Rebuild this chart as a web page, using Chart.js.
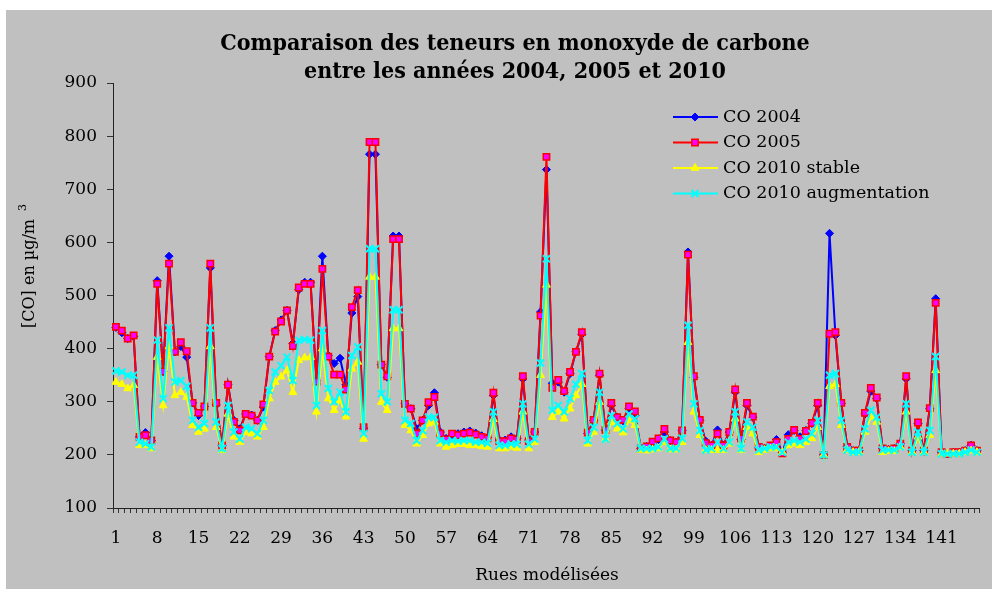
<!DOCTYPE html>
<html>
<head>
<meta charset="utf-8">
<script src="https://cdn.jsdelivr.net/npm/chart.js@4.4.1/dist/chart.umd.min.js"></script>
<style>
  html, body { margin: 0; padding: 0; background: #fff; }
  #wrap { width: 992px; height: 591px; }
</style>
</head>
<body>
<div id="wrap"><canvas id="coChart" width="992" height="591"></canvas></div>
<script>
// street index 1..147
const rues = Array.from({ length: 147 }, (_, i) => String(i + 1));

const co2004 = [
  440, 430, 419, 423, 234, 242, 227, 528, 357, 574, 394, 404, 384, 298, 274, 291, 552, 294, 218, 332,
  265, 249, 277, 275, 265, 290, 385, 434, 454, 472, 410, 511, 525, 525, 340, 574, 387, 372, 382, 332,
  467, 498, 250, 766, 766, 370, 346, 612, 612, 296, 287, 249, 265, 293, 317, 243, 231, 237, 240, 243,
  245, 241, 236, 233, 312, 228, 228, 234, 231, 343, 228, 243, 469, 737, 335, 337, 318, 353, 394, 427,
  240, 265, 350, 246, 293, 271, 264, 287, 274, 212, 216, 222, 229, 243, 227, 224, 246, 582, 346, 265,
  226, 218, 247, 218, 243, 318, 229, 293, 271, 213, 212, 215, 229, 205, 238, 246, 234, 246, 259, 293,
  200, 617, 425, 297, 216, 208, 208, 277, 320, 306, 212, 210, 212, 221, 343, 208, 259, 208, 287, 494,
  205, 202, 205, 205, 208, 218, 208
];

const co2005 = [
  441, 434, 419, 425, 234, 237, 227, 522, 357, 560, 394, 412, 395, 298, 279, 291, 560, 298, 218, 332,
  262, 246, 277, 274, 265, 295, 385, 432, 451, 472, 405, 515, 522, 522, 338, 550, 385, 351, 351, 323,
  478, 510, 252, 789, 789, 370, 348, 606, 606, 296, 287, 240, 265, 299, 309, 240, 229, 240, 237, 240,
  242, 238, 234, 231, 317, 226, 226, 231, 229, 348, 226, 243, 462, 761, 326, 341, 320, 356, 394, 431,
  242, 266, 353, 247, 298, 271, 266, 291, 282, 212, 216, 225, 231, 249, 227, 224, 246, 577, 348, 266,
  222, 218, 240, 218, 243, 323, 231, 298, 272, 215, 212, 218, 224, 203, 230, 247, 230, 245, 260, 298,
  200, 428, 431, 298, 215, 208, 208, 279, 326, 308, 212, 210, 212, 221, 348, 208, 261, 208, 288, 486,
  205, 202, 205, 205, 208, 218, 208
];

const co2010Stable = [
  337, 333, 325, 331, 218, 218, 212, 384, 293, 404, 312, 318, 309, 256, 243, 249, 404, 252, 209, 277,
  234, 224, 243, 240, 234, 252, 306, 337, 347, 359, 318, 378, 383, 384, 281, 400, 306, 284, 303, 272,
  362, 375, 230, 535, 535, 299, 284, 438, 438, 256, 246, 221, 237, 259, 262, 221, 215, 218, 220, 220,
  218, 218, 216, 215, 267, 212, 212, 215, 213, 281, 212, 224, 350, 520, 271, 281, 268, 287, 312, 333,
  221, 243, 299, 230, 262, 249, 242, 265, 256, 209, 208, 210, 212, 224, 210, 210, 224, 412, 281, 237,
  209, 209, 209, 209, 221, 268, 209, 252, 240, 205, 209, 212, 212, 205, 218, 221, 218, 224, 231, 252,
  200, 329, 333, 256, 209, 205, 205, 243, 271, 262, 205, 207, 207, 215, 281, 205, 234, 205, 237, 359,
  202, 202, 202, 202, 205, 208, 205
];

const co2010Augm = [
  358, 356, 350, 350, 224, 221, 215, 416, 306, 439, 337, 340, 329, 265, 252, 259, 439, 262, 212, 293,
  243, 230, 252, 249, 240, 265, 321, 356, 368, 384, 340, 416, 417, 416, 293, 434, 325, 300, 318, 281,
  387, 403, 240, 588, 588, 315, 300, 473, 473, 265, 259, 227, 246, 271, 271, 227, 224, 227, 226, 227,
  227, 224, 224, 222, 281, 218, 218, 221, 220, 296, 220, 230, 373, 569, 284, 293, 281, 306, 333, 353,
  227, 252, 318, 230, 274, 259, 249, 277, 268, 212, 212, 212, 215, 230, 212, 212, 231, 444, 296, 246,
  209, 212, 224, 212, 224, 281, 212, 262, 252, 209, 212, 215, 215, 205, 224, 227, 224, 230, 240, 265,
  200, 350, 353, 265, 209, 205, 205, 249, 284, 271, 209, 209, 209, 215, 296, 205, 243, 205, 246, 385,
  202, 202, 202, 202, 205, 209, 205
];

const seriesLabels = ['CO 2004', 'CO 2005', 'CO 2010 stable', 'CO 2010 augmentation'];
const titleLines = ['Comparaison des teneurs en monoxyde de carbone', 'entre les années 2004, 2005 et 2010'];
const labelEvery = 7;

const serif = "'DejaVu Serif', 'Liberation Serif', serif";

// gray frame, titles, axis names and the legend
const decor = {
  id: 'decor',
  beforeDraw(chart) {
    const ctx = chart.ctx;
    ctx.save();
    ctx.fillStyle = '#ffffff';
    ctx.fillRect(0, 0, chart.width, chart.height);
    ctx.fillStyle = '#c0c0c0';
    ctx.fillRect(6, 10, chart.width - 6, 579);
    ctx.restore();
  },
  afterDraw(chart) {
    const ctx = chart.ctx;
    ctx.save();
    ctx.fillStyle = '#000';
    ctx.textAlign = 'center';
    ctx.textBaseline = 'middle';

    ctx.font = "bold 23px 'DejaVu Serif Condensed', 'DejaVu Serif', serif";
    ctx.fillText(titleLines[0], 515, 44);
    ctx.fillText(titleLines[1], 515, 72);

    ctx.font = '17px ' + serif;
    ctx.fillText('Rues modélisées', 547, 576);

    // y title, rotated, with superscript 3
    ctx.save();
    ctx.translate(30, 328);
    ctx.rotate(-Math.PI / 2);
    ctx.textAlign = 'left';
    ctx.font = '16px ' + serif;
    ctx.fillText('[CO] en µg/m', 0, 0);
    const w = ctx.measureText('[CO] en µg/m').width;
    ctx.font = '11px ' + serif;
    ctx.fillText('3', w + 8, -7);
    ctx.restore();

    // legend
    ctx.font = '17.5px ' + serif;
    ctx.textAlign = 'left';
    chart.data.datasets.forEach((ds, i) => {
      const y = 117 + i * 25.5;
      ctx.strokeStyle = ds.borderColor;
      ctx.lineWidth = 2;
      ctx.beginPath();
      ctx.moveTo(673, y);
      ctx.lineTo(718, y);
      ctx.stroke();
      ctx.fillStyle = ds.pointBackgroundColor;
      ctx.strokeStyle = ds.pointBorderColor;
      ctx.lineWidth = ds.pointBorderWidth;
      Chart.helpers.drawPoint(ctx, {
        pointStyle: ds.pointStyle, radius: ds.pointRadius, rotation: 0, borderWidth: ds.pointBorderWidth
      }, 695, y);
      ctx.fillStyle = '#000';
      ctx.fillText(ds.label, 723, y);
    });
    ctx.restore();
  }
};

new Chart(document.getElementById('coChart'), {
  type: 'line',
  data: {
    labels: rues,
    datasets: [
      {
        label: seriesLabels[0], data: co2004, order: 4,
        borderColor: '#0000ff', borderWidth: 2,
        pointStyle: 'rectRot', pointRadius: 4,
        pointBackgroundColor: '#0000ff', pointBorderColor: '#0000ff', pointBorderWidth: 1
      },
      {
        label: seriesLabels[1], data: co2005, order: 3,
        borderColor: '#ff0000', borderWidth: 2,
        pointStyle: 'rect', pointRadius: 4.5,
        pointBackgroundColor: '#ff00ff', pointBorderColor: '#ff0000', pointBorderWidth: 1.5
      },
      {
        label: seriesLabels[2], data: co2010Stable, order: 2,
        borderColor: '#ffff00', borderWidth: 2,
        pointStyle: 'triangle', pointRadius: 4.5,
        pointBackgroundColor: '#ffff00', pointBorderColor: '#ffff00', pointBorderWidth: 1
      },
      {
        label: seriesLabels[3], data: co2010Augm, order: 1,
        borderColor: '#00ffff', borderWidth: 2,
        pointStyle: 'crossRot', pointRadius: 5,
        pointBackgroundColor: '#00ffff', pointBorderColor: '#00ffff', pointBorderWidth: 2
      }
    ]
  },
  options: {
    responsive: false,
    animation: false,
    devicePixelRatio: 1,
    layout: { padding: { top: 83, right: 11, left: 0, bottom: 0 } },
    elements: { line: { tension: 0 } },
    scales: {
      x: {
        offset: true,
        grid: { offset: true, drawOnChartArea: false, drawTicks: true, tickLength: 5, color: '#333' },
        border: { display: true, color: '#222', width: 1 },
        ticks: {
          autoSkip: false,
          maxRotation: 0,
          minRotation: 0,
          padding: 15,
          color: '#000',
          font: { family: serif, size: 17 },
          callback: function (v, i) { return i % labelEvery === 0 ? this.getLabelForValue(v) : ''; }
        },
        afterFit: s => { s.height = 83; }
      },
      y: {
        min: 100,
        max: 900,
        grid: { drawOnChartArea: false, drawTicks: true, tickLength: 6, color: '#333' },
        border: { display: true, color: '#222', width: 1 },
        ticks: { stepSize: 100, padding: 10, color: '#000', font: { family: serif, size: 17 } },
        afterFit: s => { s.width = 113; }
      }
    },
    plugins: {
      legend: { display: false },
      tooltip: { enabled: false }
    }
  },
  plugins: [decor]
});
</script>
</body>
</html>
